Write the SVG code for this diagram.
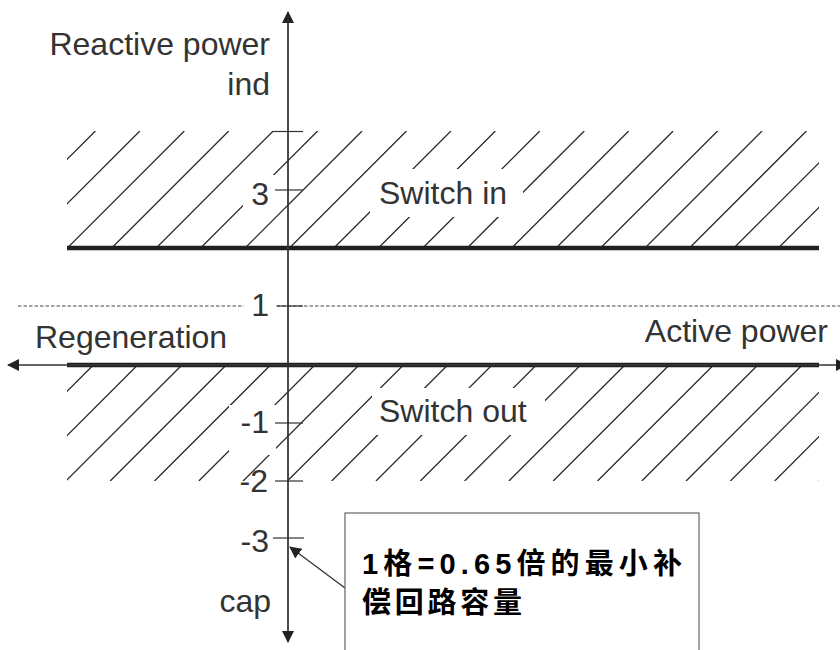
<svg xmlns="http://www.w3.org/2000/svg" width="840" height="650" viewBox="0 0 840 650">
<style>
.lbl{font-family:"Liberation Sans",Arial,sans-serif;font-size:32px;fill:#333}
.num{font-family:"Liberation Sans",Arial,sans-serif;font-size:32px;fill:#333;text-anchor:end}
.cn{font-family:"Liberation Sans","Noto Sans CJK SC",sans-serif;font-size:29px;font-weight:bold;fill:#000}
.hatch{fill:none;stroke:#2a2a2a;stroke-width:1.3}
.thick{stroke:#231f20;stroke-width:4.5;fill:none}
.axis{stroke:#333;stroke-width:1.3;fill:none}
.tick{stroke:#333;stroke-width:1.2}
.mask{fill:#fff;stroke:none}
</style>
<defs>
<clipPath id="clipTop"><rect x="67" y="131" width="752" height="117"/></clipPath>
<clipPath id="clipBot"><rect x="67" y="365" width="752" height="116"/></clipPath>
<marker id="arr" viewBox="0 0 12 12" refX="11" refY="6" markerWidth="12" markerHeight="12" markerUnits="userSpaceOnUse" orient="auto">
<path d="M0,0 L12,6 L0,12 Z" fill="#222"/>
</marker>
</defs>
<rect width="840" height="650" fill="#fff"/>

<g id="switch-in-region">
<path class="hatch" clip-path="url(#clipTop)" d="M-21.58,248L95.42,131M22.86,248L139.86,131M67.3,248L184.3,131M111.74,248L228.74,131M156.18,248L273.18,131M200.62,248L317.62,131M245.06,248L362.06,131M289.5,248L406.5,131M333.94,248L450.94,131M378.38,248L495.38,131M422.82,248L539.82,131M467.26,248L584.26,131M511.7,248L628.7,131M556.14,248L673.14,131M600.58,248L717.58,131M645.02,248L762.02,131M689.46,248L806.46,131M733.9,248L850.9,131M778.34,248L895.34,131"/>
<rect class="mask" x="243" y="175" width="32" height="32"/>
<rect class="mask" x="370" y="169" width="153" height="48"/>
<text class="lbl" x="379" y="204">Switch in</text>
</g>

<g id="switch-out-region">
<path class="hatch" clip-path="url(#clipBot)" d="M-22.7,481L93.3,365M21.6,481L137.6,365M65.9,481L181.9,365M110.2,481L226.2,365M154.5,481L270.5,365M198.8,481L314.8,365M243.1,481L359.1,365M287.4,481L403.4,365M331.7,481L447.7,365M376,481L492,365M420.3,481L536.3,365M464.6,481L580.6,365M508.9,481L624.9,365M553.2,481L669.2,365M597.5,481L713.5,365M641.8,481L757.8,365M686.1,481L802.1,365M730.4,481L846.4,365M774.7,481L890.7,365M819,481L935,365"/>
<rect class="mask" x="229" y="405" width="47" height="50"/>
<rect class="mask" x="372" y="388" width="173" height="47"/>
<text class="lbl" x="379" y="422">Switch out</text>
</g>

<g id="threshold-lines">
<line class="thick" x1="67" y1="248" x2="819" y2="248"/>
<line class="thick" x1="67" y1="365" x2="819" y2="365"/>
<line x1="18" y1="306" x2="840" y2="306" stroke="#444" stroke-width="1" stroke-dasharray="3.5 2"/>
<rect class="mask" x="244" y="296" width="32" height="22"/>
</g>

<g id="connectors">
<line class="axis" x1="288" y1="640" x2="288" y2="12" marker-end="url(#arr)"/>
<line class="axis" x1="288" y1="20" x2="288" y2="642" marker-end="url(#arr)"/>
<line class="axis" x1="819" y1="365" x2="8" y2="365" marker-end="url(#arr)"/>
<line class="axis" x1="67" y1="365" x2="847" y2="365" marker-end="url(#arr)"/>
<line x1="345" y1="588" x2="290" y2="547" stroke="#333" stroke-width="1.3" marker-end="url(#arr)"/>
</g>

<g id="y-axis-ticks">
<line class="tick" x1="273" y1="131.5" x2="303" y2="131.5"/>
<line class="tick" x1="275" y1="190" x2="303" y2="190"/>
<line class="tick" x1="277" y1="306" x2="303" y2="306"/>
<line class="tick" x1="275" y1="423" x2="303" y2="423"/>
<line class="tick" x1="275" y1="481" x2="303" y2="481"/>
<line class="tick" x1="273" y1="538" x2="304" y2="538"/>
<text class="num" x="269" y="205">3</text>
<text class="num" x="269" y="316">1</text>
<text class="num" x="269" y="433">-1</text>
<text class="num" x="268" y="492">-2</text>
<text class="num" x="269" y="552">-3</text>
</g>

<g id="axis-labels">
<text class="lbl" x="270" y="55" text-anchor="end">Reactive power</text>
<text class="lbl" x="270" y="95" text-anchor="end">ind</text>
<text class="lbl" x="271" y="612" text-anchor="end">cap</text>
<text class="lbl" x="35" y="348">Regeneration</text>
<text class="lbl" x="828" y="342" text-anchor="end">Active power</text>
</g>

<g id="callout">
<rect x="345" y="513" width="354" height="160" fill="#fff" stroke="#666" stroke-width="1.2"/>
<text class="cn" x="362" y="574" textLength="320" lengthAdjust="spacing">1格=0.65倍的最小补</text>
<text class="cn" x="362" y="613" textLength="160" lengthAdjust="spacing">偿回路容量</text>
</g>
</svg>
